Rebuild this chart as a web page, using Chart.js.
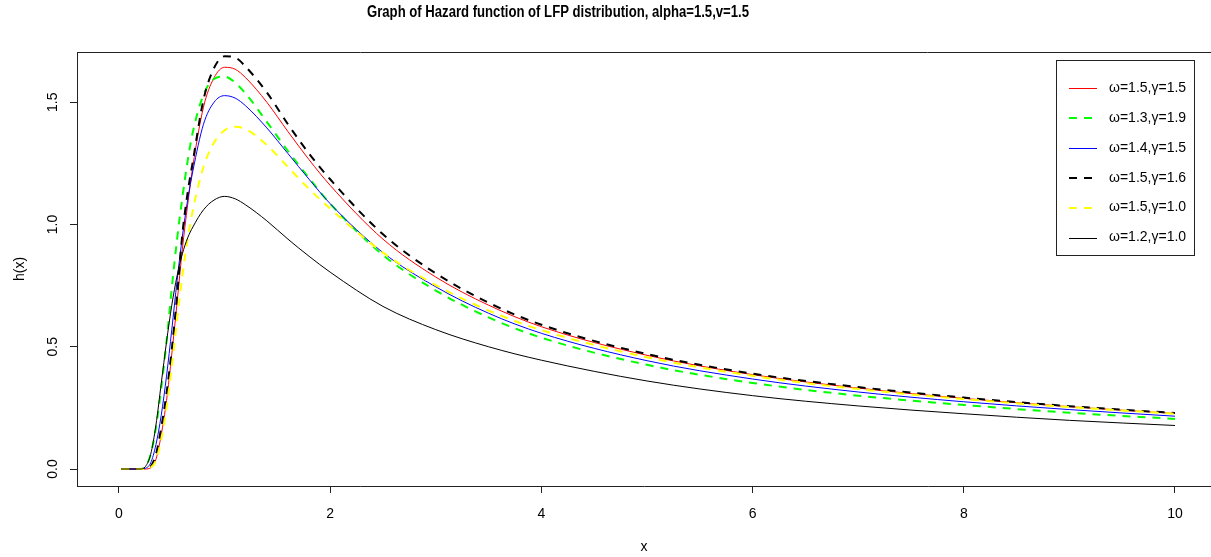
<!DOCTYPE html>
<html><head><meta charset="utf-8">
<script src="https://cdn.jsdelivr.net/npm/chart.js@4.4.1/dist/chart.umd.min.js"></script>
<style>html,body{margin:0;padding:0;background:#fff;overflow:hidden}#wrap{width:1211px;height:557px;position:relative}</style>
</head><body><div id="wrap"><canvas id="c" width="1211" height="557"></canvas></div>
<script>
const titleText = "Graph of Hazard function of LFP distribution, alpha=1.5,v=1.5";
const xLabel = "x";
const yLabel = "h(x)";
const xTicks = [0, 2, 4, 6, 8, 10];
const yTicks = [0, 0.5, 1.0, 1.5];
const seriesLabels = ["ω=1.5,γ=1.5", "ω=1.3,γ=1.9", "ω=1.4,γ=1.5", "ω=1.5,γ=1.6", "ω=1.5,γ=1.0", "ω=1.2,γ=1.0"];
const xValues = [0.02, 0.1, 0.2, 0.25, 0.3, 0.35, 0.4, 0.45, 0.5, 0.55, 0.6, 0.65, 0.7, 0.8, 0.9, 1.0, 1.1, 1.2, 1.4, 1.6, 1.8, 2.0, 2.5, 3, 3.5, 4, 5, 6, 7, 8, 9, 10];
const h_w15_g15 = [0, 0, 0, 0, 0.005, 0.04, 0.14, 0.28, 0.47, 0.68, 0.90, 1.08, 1.24, 1.48, 1.60, 1.643, 1.635, 1.60, 1.50, 1.38, 1.265, 1.16, 0.94, 0.785, 0.67, 0.582, 0.465, 0.386, 0.331, 0.289, 0.255, 0.227];
const h_w13_g19 = [0, 0, 0, 0.01, 0.06, 0.17, 0.33, 0.52, 0.74, 0.94, 1.11, 1.26, 1.38, 1.53, 1.595, 1.605, 1.58, 1.535, 1.42, 1.30, 1.19, 1.085, 0.875, 0.73, 0.62, 0.537, 0.426, 0.352, 0.30, 0.262, 0.23, 0.205];
const h_w14_g15 = [0, 0, 0, 0.003, 0.025, 0.10, 0.22, 0.38, 0.57, 0.77, 0.95, 1.10, 1.22, 1.41, 1.50, 1.527, 1.517, 1.485, 1.395, 1.29, 1.185, 1.085, 0.885, 0.745, 0.637, 0.555, 0.443, 0.368, 0.315, 0.275, 0.243, 0.216];
const h_w15_g16 = [0, 0, 0, 0, 0.01, 0.06, 0.17, 0.31, 0.49, 0.71, 0.96, 1.13, 1.26, 1.51, 1.64, 1.688, 1.683, 1.645, 1.54, 1.41, 1.29, 1.185, 0.96, 0.80, 0.68, 0.59, 0.47, 0.39, 0.335, 0.292, 0.257, 0.229];
const h_w15_g10 = [0, 0, 0, 0, 0.005, 0.035, 0.12, 0.25, 0.42, 0.61, 0.79, 0.94, 1.06, 1.235, 1.335, 1.385, 1.40, 1.39, 1.325, 1.235, 1.145, 1.065, 0.885, 0.752, 0.648, 0.568, 0.457, 0.381, 0.327, 0.286, 0.253, 0.226];
const h_w12_g10 = [0, 0, 0, 0.01, 0.06, 0.18, 0.35, 0.52, 0.67, 0.79, 0.88, 0.945, 0.99, 1.06, 1.10, 1.115, 1.105, 1.08, 1.015, 0.94, 0.87, 0.805, 0.665, 0.57, 0.50, 0.445, 0.36, 0.30, 0.258, 0.226, 0.199, 0.178];

const seriesValues = [h_w15_g15, h_w13_g19, h_w14_g15, h_w15_g16, h_w15_g10, h_w12_g10];
const seriesColors = ["#FF0000", "#00FF00", "#0000FF", "#000000", "#FFFF00", "#000000"];
const seriesWidths = [1, 2, 1, 2, 2, 1];
const seriesDashed = [false, true, false, true, true, false];
const DASH = [8, 7];
const FONT = "'Liberation Sans', Arial, Helvetica, sans-serif";

const datasets = seriesValues.map((vals, i) => ({
  label: seriesLabels[i],
  data: xValues.map((x, j) => ({x: x, y: vals[j]})),
  borderColor: seriesColors[i],
  borderWidth: seriesWidths[i],
  borderDash: seriesDashed[i] ? DASH : [],
  pointRadius: 0,
  fill: false,
  cubicInterpolationMode: 'monotone',
  order: seriesValues.length - i
}));

const decorPlugin = {
  id: 'decor',
  afterDraw(chart) {
    const ctx = chart.ctx;
    const ca = chart.chartArea;
    ctx.save();
    ctx.strokeStyle = '#222';
    ctx.lineWidth = 1;
    ctx.setLineDash([]);
    ctx.beginPath();
    ctx.moveTo(ca.left, Math.round(ca.top) + 0.5);
    ctx.lineTo(ca.right, Math.round(ca.top) + 0.5);
    ctx.stroke();
    // title (horizontally condensed like the reference)
    ctx.save();
    ctx.fillStyle = '#000';
    ctx.font = "bold 16px " + FONT;
    ctx.textAlign = 'center';
    ctx.textBaseline = 'middle';
    ctx.translate(558, 13);
    ctx.scale(0.82, 1);
    ctx.fillText(titleText, 0, 0);
    ctx.restore();
    // legend
    const bx = 1056.5, by = 60.5, bw = 138, bh = 195;
    ctx.strokeStyle = '#222';
    ctx.lineWidth = 1;
    ctx.strokeRect(bx, by, bw, bh);
    ctx.font = "14px " + FONT;
    ctx.textAlign = 'left';
    ctx.textBaseline = 'middle';
    seriesLabels.forEach((lab, i) => {
      const y = 88 + i * 29.9;
      ctx.beginPath();
      ctx.strokeStyle = seriesColors[i];
      ctx.lineWidth = seriesWidths[i];
      ctx.setLineDash(seriesDashed[i] ? DASH : []);
      const yy = seriesWidths[i] === 1 ? Math.round(y) + 0.5 : Math.round(y);
      ctx.moveTo(1069, yy);
      ctx.lineTo(1097, yy);
      ctx.stroke();
      ctx.setLineDash([]);
      ctx.fillStyle = '#000';
      ctx.fillText(lab, 1109, y);
    });
    ctx.restore();
  }
};

new Chart(document.getElementById('c'), {
  type: 'line',
  data: { datasets },
  plugins: [decorPlugin],
  options: {
    responsive: false,
    devicePixelRatio: 1,
    animation: false,
    layout: { padding: { top: 52, left: 0, right: 0, bottom: 0 } },
    plugins: { legend: { display: false }, title: { display: false }, tooltip: { enabled: false } },
    scales: {
      x: {
        type: 'linear',
        min: -0.3977,
        max: 10.341,
        afterFit(s) { s.height = 71; },
        afterBuildTicks(s) { s.ticks = xTicks.map(v => ({ value: v })); },
        grid: { drawOnChartArea: false, drawTicks: true, tickLength: 7, color: '#222', tickColor: '#222' },
        border: { display: true, color: '#222', width: 1 },
        ticks: { color: '#000', font: { family: FONT, size: 14 }, padding: 13, maxRotation: 0, minRotation: 0, callback: v => String(v) },
        title: { display: true, text: xLabel, color: '#000', font: { family: FONT, size: 14 }, padding: { top: 0, bottom: 1 } }
      },
      y: {
        type: 'linear',
        min: -0.0695,
        max: 1.7055,
        afterFit(s) { s.width = 77; },
        afterBuildTicks(s) { s.ticks = yTicks.map(v => ({ value: v })); },
        grid: { drawOnChartArea: false, drawTicks: true, tickLength: 7, color: '#222', tickColor: '#222' },
        border: { display: true, color: '#222', width: 1 },
        ticks: { color: '#000', font: { family: FONT, size: 14 }, padding: 7, minRotation: 90, maxRotation: 90, crossAlign: 'center', callback: v => Number(v).toFixed(1) },
        title: { display: true, text: yLabel, color: '#000', font: { family: FONT, size: 14 }, padding: { top: 12, bottom: 0 } }
      }
    }
  }
});
</script></body></html>
